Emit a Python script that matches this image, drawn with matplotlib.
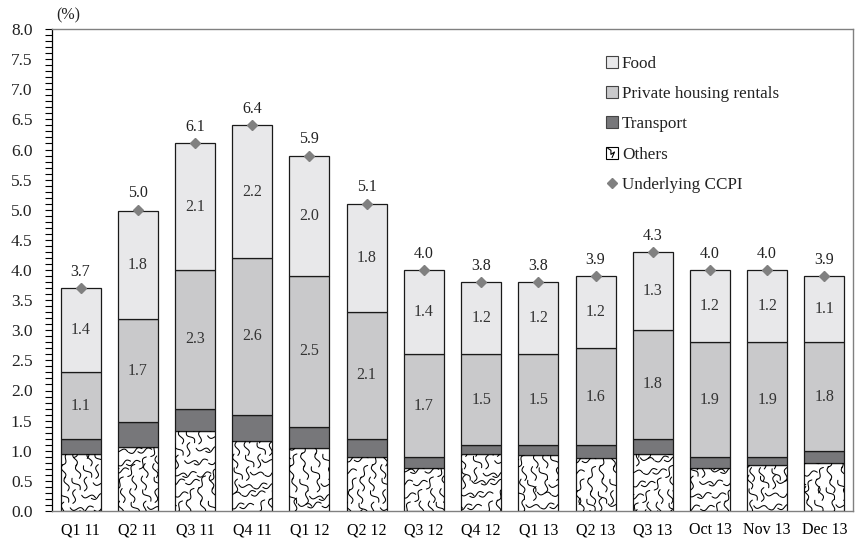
import numpy as np
import matplotlib.pyplot as plt
from matplotlib.ticker import MultipleLocator
from matplotlib.patches import Patch
from matplotlib.lines import Line2D
from matplotlib.legend_handler import HandlerPatch

plt.rcParams['font.family'] = ['Liberation Serif', 'DejaVu Serif']

periods = ['Q1 11', 'Q2 11', 'Q3 11', 'Q4 11', 'Q1 12', 'Q2 12', 'Q3 12',
           'Q4 12', 'Q1 13', 'Q2 13', 'Q3 13', 'Oct 13', 'Nov 13', 'Dec 13']
others = [0.95, 1.06, 1.33, 1.16, 1.04, 0.90, 0.71, 0.95, 0.93, 0.88, 0.94, 0.71, 0.77, 0.79]
transport = [0.25, 0.42, 0.37, 0.44, 0.36, 0.30, 0.19, 0.15, 0.17, 0.22, 0.26, 0.19, 0.13, 0.21]
housing = [1.1, 1.7, 2.3, 2.6, 2.5, 2.1, 1.7, 1.5, 1.5, 1.6, 1.8, 1.9, 1.9, 1.8]
food = [1.4, 1.8, 2.1, 2.2, 2.0, 1.8, 1.4, 1.2, 1.2, 1.2, 1.3, 1.2, 1.2, 1.1]
ccpi = [3.7, 5.0, 6.1, 6.4, 5.9, 5.1, 4.0, 3.8, 3.8, 3.9, 4.3, 4.0, 4.0, 3.9]

c_food = '#e8e8ea'
c_housing = '#c9c9cb'
c_transport = '#77777a'
c_marker = '#808080'
edge = '#1a1a1a'
fs = 11.5

fig = plt.figure(figsize=(8.57, 5.4), dpi=100)
ax = fig.add_axes([52 / 857, 29 / 540, 801 / 857, 482 / 540])

x = np.arange(len(periods))
w = 0.7
others = np.array(others)
transport = np.array(transport)
housing = np.array(housing)
food = np.array(food)

b_oth = ax.bar(x, others, w, color='white', edgecolor=edge, linewidth=0.9, zorder=2)
ax.bar(x, transport, w, bottom=others, color=c_transport, edgecolor=edge, linewidth=0.9, zorder=2)
ax.bar(x, housing, w, bottom=others + transport, color=c_housing, edgecolor=edge, linewidth=0.9, zorder=2)
ax.bar(x, food, w, bottom=others + transport + housing, color=c_food, edgecolor=edge, linewidth=0.9, zorder=2)
ax.plot(x, ccpi, linestyle='none', marker='D', markersize=5.5, color=c_marker, zorder=4)

ax.set_xlim(-0.5, len(periods) - 0.5)
ax.set_ylim(0, 8.0)

# wavy texture for the "Others" segment, laid out in pixel units
px_x = 801 / len(periods)
px_y = 482 / 8.0
angles = [80, 10, 100, 170, 60, 125, 15, 95]


def squiggle(cx, cy, theta, length=14.0, amp=2.0):
    t = np.linspace(-0.5, 0.5, 24)
    a = t * length
    p = amp * np.sin(2 * np.pi * t)
    th = np.deg2rad(theta)
    dx = a * np.cos(th) - p * np.sin(th)
    dy = a * np.sin(th) + p * np.cos(th)
    return cx + dx, cy + dy


cell = 11.5
for i, rect in enumerate(b_oth):
    h_px = others[i] * px_y
    w_px = w * px_x
    nr = int(h_px / cell) + 2
    nc = int(w_px / cell) + 2
    for r in range(-1, nr):
        for c in range(-1, nc):
            k = (r * 5 + c * 3 + i * 2) % len(angles)
            jx = ((r * 7 + c * 13 + i) % 5 - 2) * 1.0
            jy = ((r * 11 + c * 5 + i) % 5 - 2) * 1.0
            sx, sy = squiggle(c * cell + 4 + jx, r * cell + 4 + jy, angles[k])
            xs = (i - w / 2) + sx / px_x
            ys = sy / px_y
            ln, = ax.plot(xs, ys, color='black', linewidth=0.75, zorder=3,
                          solid_capstyle='round')
            ln.set_clip_path(rect)

# value labels
for i in range(len(periods)):
    base = others[i] + transport[i]
    ax.text(x[i], base + housing[i] / 2, f'{housing[i]:.1f}', ha='center', va='center',
            fontsize=fs, color='#333333', zorder=5)
    ax.text(x[i], base + housing[i] + food[i] / 2, f'{food[i]:.1f}', ha='center', va='center',
            fontsize=fs, color='#333333', zorder=5)
    ax.annotate(f'{ccpi[i]:.1f}', (x[i], ccpi[i]), xytext=(0, 6), textcoords='offset points',
                ha='center', va='bottom', fontsize=fs, color='#222222', zorder=5)

ax.set_xticks(x)
ax.set_xticklabels(periods, fontsize=fs)
ax.tick_params(axis='x', length=0, pad=8)
ax.yaxis.set_minor_locator(MultipleLocator(0.1))
yt = np.arange(0, 8.01, 0.5)
ax.set_yticks(yt)
ax.set_yticklabels([f'{v:.1f}' for v in yt], fontsize=12.5)
ax.tick_params(axis='y', which='both', direction='out', length=5, width=0.8, colors='black', pad=9)
ax.tick_params(axis='y', labelcolor='#222222')

for s in ['top', 'right', 'bottom']:
    ax.spines[s].set_color('#808080')
    ax.spines[s].set_linewidth(1.0)
ax.spines['left'].set_color('black')
ax.spines['left'].set_linewidth(0.9)

fig.text(68 / 857, 1 - 15 / 540, '(%)', fontsize=fs, ha='center', va='center', color='#222222')


class OthersHandler(HandlerPatch):
    def create_artists(self, legend, orig_handle, xdescent, ydescent, width, height, fontsize, trans):
        arts = super().create_artists(legend, orig_handle, xdescent, ydescent, width, height, fontsize, trans)
        xs = -xdescent + width * np.array([0.2, 0.45, 0.45, 0.75, 0.55])
        ys = -ydescent + height * np.array([0.85, 0.7, 0.35, 0.55, 0.1])
        ln = Line2D(xs, ys, color='black', linewidth=0.8, transform=trans)
        return arts + [ln]


handles = [
    Patch(facecolor=c_food, edgecolor='#444444', linewidth=0.8),
    Patch(facecolor=c_housing, edgecolor='#444444', linewidth=0.8),
    Patch(facecolor=c_transport, edgecolor='#444444', linewidth=0.8),
    Patch(facecolor='white', edgecolor='black', linewidth=0.8),
    Line2D([], [], linestyle='none', marker='D', markersize=5, color=c_marker),
]
labels = ['Food', 'Private housing rentals', 'Transport', 'Others', 'Underlying CCPI']
leg = ax.legend(handles, labels, loc='upper left', bbox_to_anchor=(597 / 857, 1 - 47 / 540),
                bbox_transform=fig.transFigure, frameon=False, fontsize=12.3,
                handlelength=0.7, handleheight=0.7, handletextpad=0.25, labelspacing=0.84,
                borderpad=0, handler_map={handles[3]: OthersHandler()})
for t in leg.get_texts():
    t.set_color('#222222')

fig.savefig('out.png', dpi=100)
